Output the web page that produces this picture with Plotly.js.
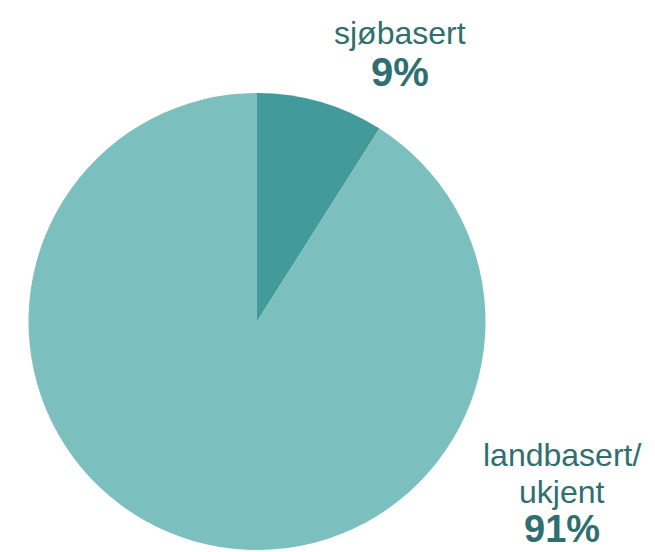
<!DOCTYPE html>
<html><head><meta charset="utf-8">
<script src="https://cdn.plot.ly/plotly-3.0.1.min.js"></script>
<style>html,body{margin:0;padding:0;background:#fff}#c{width:655px;height:552px}</style>
</head><body><div id="c"></div>
<script>
const categories = ["sjøbasert", "landbasert/ukjent"];
const labelLines = [["sjøbasert"], ["landbasert/", "ukjent"]];
const values = [9, 91];
const colors = ["#439a9a", "#7bbfbf"];

const trace = {
  type: "pie",
  labels: categories,
  values: values,
  sort: false,
  direction: "clockwise",
  rotation: 0,
  textinfo: "none",
  hoverinfo: "label+percent",
  marker: {colors: colors, line: {width: 0}},
  domain: {x: [27/655, 487/655], y: [2/552, 459/552]},
  showlegend: false
};

const tc = "#2f6f6f";
const font = "Liberation Sans, Arial, sans-serif";
const total = values.reduce((a,b)=>a+b,0);
const pct = values.map(v => Math.round(v/total*100) + "%");
// label line centers (px from top) and percentage center
const annPos = [
  {x: 400, lines: [33], pct: 72, ps: 40},
  {x: 562, lines: [455, 492], pct: 529, ps: 38}
];
const annotations = [];
annPos.forEach((p, i) => {
  labelLines[i].forEach((t, j) => {
    annotations.push({xref:"paper", yref:"paper", x:p.x/655, y:1 - p.lines[j]/552, text: t, showarrow:false,
      borderpad:0, font:{family:font, size:32, color:tc}, xanchor:"center", yanchor:"middle"});
  });
  annotations.push({xref:"paper", yref:"paper", x:p.x/655, y:1 - p.pct/552, text: "<b>" + pct[i] + "</b>", showarrow:false,
    borderpad:0, font:{family:font, size:p.ps, color:tc}, xanchor:"center", yanchor:"middle"});
});

Plotly.newPlot("c", [trace], {
  width: 655, height: 552,
  margin: {l:0, r:0, t:0, b:0},
  paper_bgcolor: "#fff",
  annotations: annotations
}, {displayModeBar: false, staticPlot: true});
</script></body></html>
